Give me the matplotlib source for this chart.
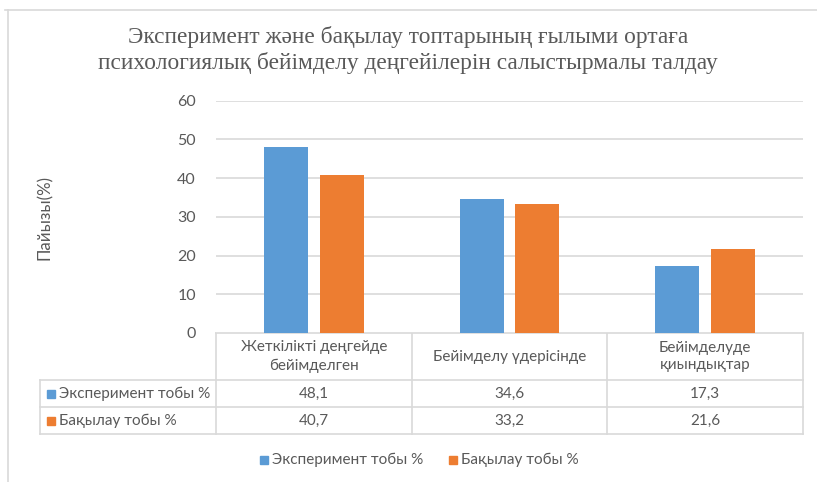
import matplotlib
matplotlib.use('Agg')
import matplotlib.pyplot as plt
import numpy as np

categories = ['Жеткілікті деңгейде\nбейімделген', 'Бейімделу үдерісінде', 'Бейімделуде\nқиындықтар']
series_names = ['Эксперимент тобы %', 'Бақылау тобы %']
experiment = [48.1, 34.6, 17.3]
control = [40.7, 33.2, 21.6]
y_ticks = [0, 10, 20, 30, 40, 50, 60]
title = ('Эксперимент және бақылау топтарының ғылыми ортаға\n'
         'психологиялық бейімделу деңгейілерін салыстырмалы талдау')
ylabel = 'Пайызы(%)'

BLUE = '#5B9BD5'
ORANGE = '#ED7D31'
TXT = '#595959'
GRID = '#d9d9d9'
SANS = ['Lato', 'DejaVu Sans']
SERIF = ['Liberation Serif', 'DejaVu Serif']

W, H = 817, 482
fig = plt.figure(figsize=(W / 100, H / 100), dpi=100)


def fx(px):
    return px / W


def fy(py):
    return 1 - py / H


L, R, T, B = 216, 803, 100.7, 333
ax = fig.add_axes([fx(L), fy(B), fx(R) - fx(L), fy(T) - fy(B)])
x = np.arange(len(categories))
bw = 0.225
ax.bar(x - 0.143, experiment, bw, color=BLUE, zorder=3)
ax.bar(x + 0.143, control, bw, color=ORANGE, zorder=3)
ax.set_xlim(-0.5, len(categories) - 0.5)
ax.set_ylim(0, 60)
ax.set_yticks(y_ticks)
ax.grid(axis='y', color=GRID, lw=1.2, zorder=0)
for s in ax.spines.values():
    s.set_visible(False)
ax.tick_params(left=False, bottom=False, labelbottom=False, labelsize=11.5,
               labelcolor=TXT, pad=11)
for lab in ax.get_yticklabels():
    lab.set_family(SANS)

# overlay in pixel coordinates for table / legend / frame
ov = fig.add_axes([0, 0, 1, 1], zorder=-1)
ov.set_xlim(0, W)
ov.set_ylim(H, 0)
ov.axis('off')

# chart frame
ov.plot([8, 8], [10, H], color=GRID, lw=1.2)
ov.plot([5, W], [10, 10], color=GRID, lw=1.2)

# title & y label
ov.text(408, 50, title, ha='center', va='center', fontsize=16.8, color=TXT,
        family=SERIF, linespacing=1.22)
ov.text(45, 217, ylabel, ha='center', va='center', rotation=90, fontsize=12.2,
        color=TXT, family=SANS)

# data table
col_w = (R - L) / len(categories)
rows_y = [B, 380, 407, 434]
tl = 40
ov.plot([L, R], [B, B], color=GRID, lw=1.2)
for yy in rows_y[1:]:
    ov.plot([tl, R], [yy, yy], color=GRID, lw=1.2)
ov.plot([tl, tl], [rows_y[1], rows_y[-1]], color=GRID, lw=1.2)
for i in range(len(categories) + 1):
    xx = L + i * col_w
    ov.plot([xx, xx], [B, rows_y[-1]], color=GRID, lw=1.2)

for i, cat in enumerate(categories):
    cx = L + (i + 0.5) * col_w
    ov.text(cx, (rows_y[0] + rows_y[1]) / 2, cat, ha='center', va='center',
            fontsize=11, color=TXT, family=SANS, linespacing=1.35)
    for r, vals in enumerate([experiment, control]):
        cy = (rows_y[r + 1] + rows_y[r + 2]) / 2
        ov.text(cx, cy, f'{vals[i]:.1f}'.replace('.', ','), ha='center',
                va='center', fontsize=11, color=TXT, family=SANS)

for r, (name, col) in enumerate(zip(series_names, [BLUE, ORANGE])):
    cy = (rows_y[r + 1] + rows_y[r + 2]) / 2
    ov.plot([51], [cy], marker='s', ms=6, color=col, lw=0)
    ov.text(59, cy, name, ha='left', va='center', fontsize=11, color=TXT,
            family=SANS)

# legend
for name, col, lx in zip(series_names, [BLUE, ORANGE], [264, 453]):
    ov.plot([lx], [460], marker='s', ms=6, color=col, lw=0)
    ov.text(lx + 8, 460, name, ha='left', va='center', fontsize=11, color=TXT,
            family=SANS)

fig.savefig('out.png', dpi=100)
